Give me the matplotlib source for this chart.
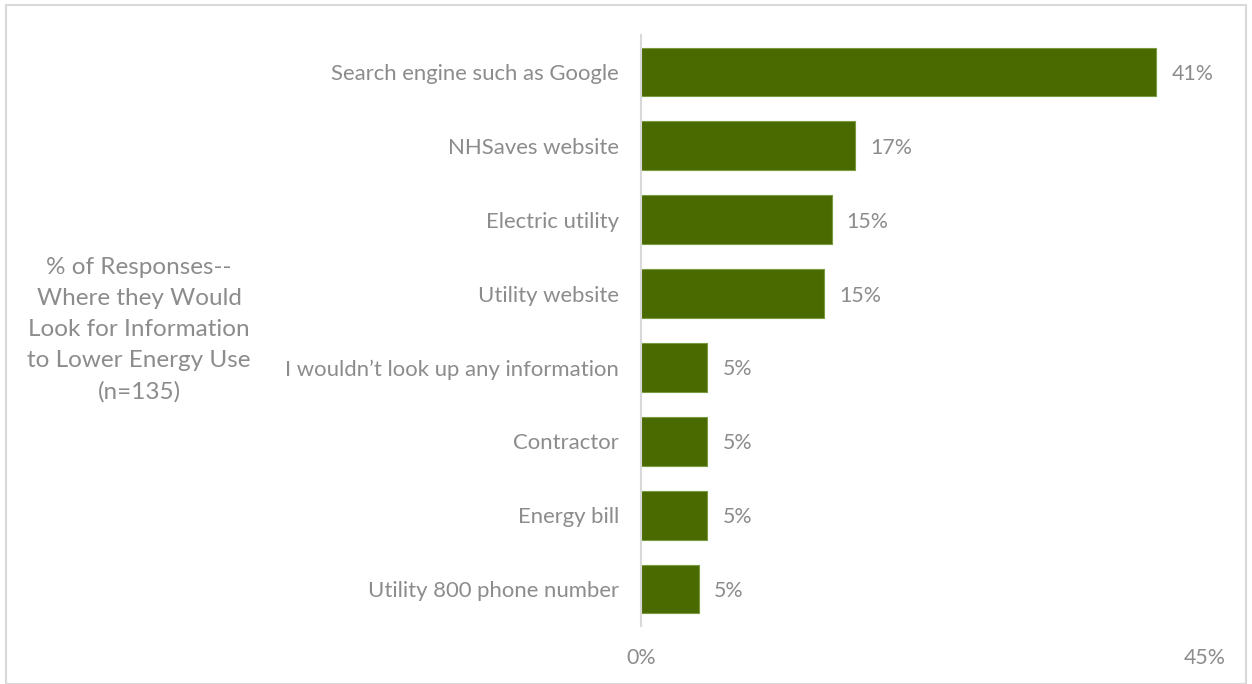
import matplotlib.pyplot as plt
from matplotlib.patches import Rectangle
from matplotlib.ticker import FuncFormatter

# Data
categories = ["Search engine such as Google", "NHSaves website", "Electric utility",
              "Utility website", "I wouldn\u2019t look up any information", "Contractor",
              "Energy bill", "Utility 800 phone number"]
values = [41.1, 17.1, 15.2, 14.6, 5.3, 5.3, 5.3, 4.6]
labels = ["41%", "17%", "15%", "15%", "5%", "5%", "5%", "5%"]

plt.rcParams['font.family'] = ['Lato', 'DejaVu Sans']
grey = '#8c8c8c'
green = '#4a6a00'

fig = plt.figure(figsize=(12.52, 6.84), dpi=100)
ax = fig.add_axes([0.512, 0.0848, 0.4505, 0.864])

y = list(range(len(categories)))
ax.barh(y, values, height=0.66, color=green, edgecolor='#7a9a40', linewidth=0.8)
for yi, v, lab in zip(y, values, labels):
    ax.text(v + 1.2, yi, lab, va='center_baseline', ha='left', color=grey, fontsize=15.4)

ax.set_yticks(y)
ax.set_yticklabels(categories)
ax.set_ylim(len(categories) - 0.5, -0.5)
ax.set_xlim(0, 45)
ax.set_xticks([0, 45])
ax.xaxis.set_major_formatter(FuncFormatter(lambda v, p: f"{v:.0f}%"))
ax.tick_params(axis='y', length=0, pad=16, labelsize=15.9, labelcolor=grey)
ax.tick_params(axis='x', length=0, pad=16, labelsize=15.4, labelcolor=grey)
for s in ['top', 'right', 'bottom']:
    ax.spines[s].set_visible(False)
ax.spines['left'].set_color('#d9d9d9')
ax.spines['left'].set_linewidth(1.5)

fig.text(0.111, 0.5175, "% of Responses--\nWhere they Would\nLook for Information\nto Lower Energy Use\n(n=135)",
         ha='center', va='center', color=grey, fontsize=17.5, linespacing=1.58)

fig.patches.append(Rectangle((0.005, 0.0), 0.99, 0.992, transform=fig.transFigure,
                             fill=False, edgecolor='#d9d9d9', linewidth=1.5))

fig.savefig('out.png', dpi=100)
